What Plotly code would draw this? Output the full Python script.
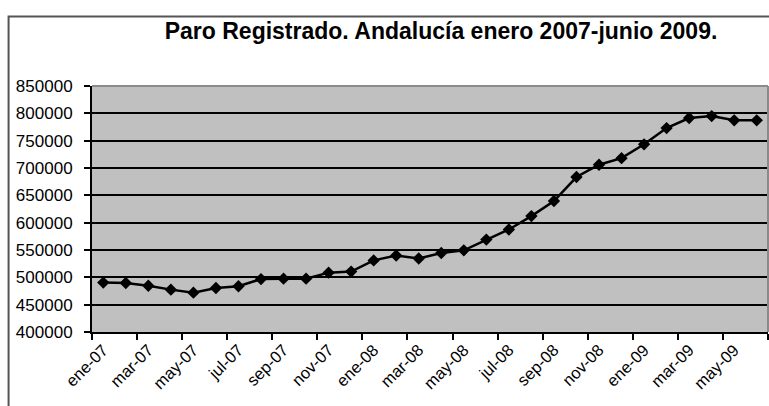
import plotly.graph_objects as go

months = ["ene-07", "feb-07", "mar-07", "abr-07", "may-07", "jun-07", "jul-07", "ago-07",
          "sep-07", "oct-07", "nov-07", "dic-07", "ene-08", "feb-08", "mar-08", "abr-08",
          "may-08", "jun-08", "jul-08", "ago-08", "sep-08", "oct-08", "nov-08", "dic-08",
          "ene-09", "feb-09", "mar-09", "abr-09", "may-09", "jun-09"]
paro = [490400, 489600, 484600, 477500, 472000, 480500, 483600, 496800,
        497600, 497600, 508600, 510500, 531000, 540000, 534500, 544500,
        549400, 569000, 587500, 612000, 639600, 683500, 706000, 718000,
        743300, 773000, 791400, 795000, 787200, 787200]
y_ticks = [400000, 450000, 500000, 550000, 600000, 650000, 700000, 750000, 800000, 850000]
title_text = "Paro Registrado. Andalucía enero 2007-junio 2009."

fig = go.Figure()
fig.add_trace(go.Scatter(
    x=months, y=paro, mode="lines+markers",
    line=dict(color="black", width=2.5),
    marker=dict(symbol="diamond", size=9.5, color="black"),
    showlegend=False, hoverinfo="x+y",
))

font_family = "Liberation Sans, Arial, sans-serif"
fig.update_layout(
    width=769, height=406,
    margin=dict(l=91.5, r=1, t=86, b=74),
    paper_bgcolor="white",
    plot_bgcolor="#c0c0c0",
    font=dict(family=font_family, size=17, color="black"),
    title=dict(text="<b>" + title_text + "</b>", x=0.5735, xanchor="center",
               y=1 - 31 / 406, yanchor="middle",
               font=dict(family=font_family, size=23, color="black")),
    xaxis=dict(
        type="category", categoryorder="array", categoryarray=months,
        range=[-0.5, len(months) - 0.5],
        tickmode="linear", tick0=0, dtick=2, tickson="boundaries",
        tickangle=-45, ticks="outside", ticklen=6, tickwidth=2, tickcolor="black",
        showline=True, linecolor="black", linewidth=2,
        showgrid=False, zeroline=False,
        tickfont=dict(size=16.5),
    ),
    yaxis=dict(
        range=[400000, 850000], tickvals=y_ticks,
        ticktext=[str(v) for v in y_ticks],
        ticks="outside", ticklen=6, tickwidth=2, tickcolor="black",
        ticklabelstandoff=8,
        showline=True, linecolor="black", linewidth=2,
        showgrid=True, gridcolor="black", gridwidth=2,
        zeroline=False,
        tickfont=dict(size=17),
    ),
    shapes=[
        # chart outer border
        dict(type="rect", xref="paper", yref="paper",
             x0=-0.1234, x1=1.2, y0=-0.6, y1=1.283,
             line=dict(color="#555555", width=2), layer="below"),
        # plot area top and right borders (gray)
        dict(type="line", xref="paper", yref="paper", x0=0, x1=1, y0=1, y1=1,
             line=dict(color="#8a8a8a", width=2), layer="above"),
        dict(type="line", xref="paper", yref="paper", x0=1, x1=1, y0=0, y1=1,
             line=dict(color="#8a8a8a", width=2), layer="above"),
    ],
)

fig.write_html("out.html",
               config={"displayModeBar": False},
               post_script="document.body.style.margin='0';document.body.style.overflow='hidden';")
